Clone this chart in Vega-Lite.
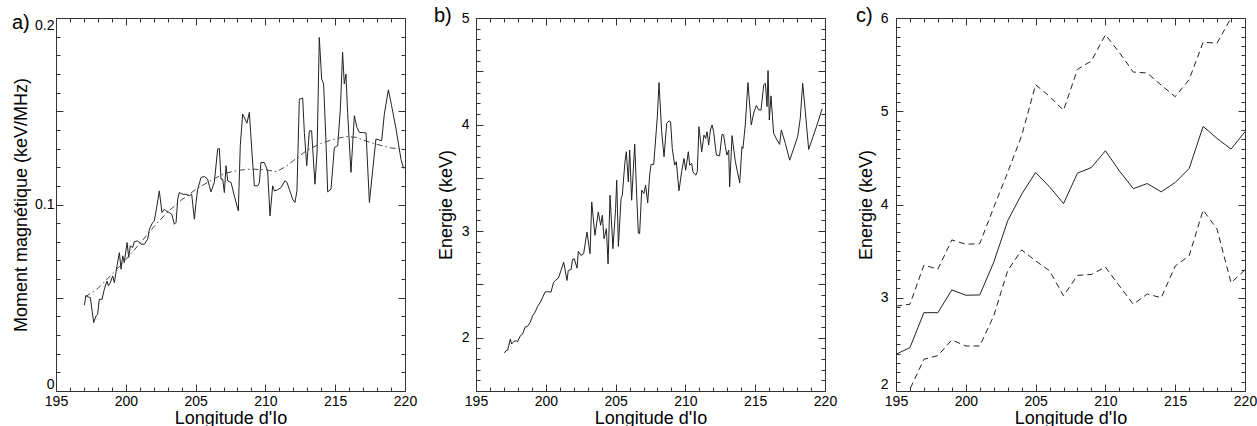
{
  "$schema": "https://vega.github.io/schema/vega-lite/v6.json",
  "padding": {"left": 11, "top": 5, "right": 5, "bottom": 0},
  "spacing": 71,
  "bounds": "flush",
  "config": {
    "view": {"stroke": "#333", "strokeWidth": 1},
    "axis": {"domain": false, "grid": false, "tickColor": "#333", "tickWidth": 1, "labelFont": "Liberation Sans", "labelFontSize": 14, "labelColor": "#000", "titleFont": "Liberation Sans", "titleFontSize": 18, "titleFontWeight": "normal", "titleColor": "#000", "labelOverlap": false},
    "title": {"font": "Liberation Sans", "fontSize": 20, "fontWeight": "normal", "color": "#000"},
    "line": {"color": "#222", "strokeWidth": 1}
  },
  "datasets": {
    "a_obs": [
      {"lon":197.03,"m":0.046},{"lon":197.15,"m":0.0513},{"lon":197.32,"m":0.0504},{"lon":197.46,"m":0.0501},{"lon":197.70,"m":0.0367},{"lon":197.87,"m":0.0403},{"lon":197.98,"m":0.0411},{"lon":198.10,"m":0.0492},{"lon":198.30,"m":0.0492},{"lon":198.46,"m":0.0546},{"lon":198.65,"m":0.059},{"lon":198.75,"m":0.0564},{"lon":198.89,"m":0.0581},{"lon":199.06,"m":0.0617},{"lon":199.18,"m":0.0581},{"lon":199.37,"m":0.0671},{"lon":199.54,"m":0.0742},{"lon":199.66,"m":0.0653},{"lon":199.78,"m":0.0725},{"lon":199.89,"m":0.0689},{"lon":200.09,"m":0.0796},{"lon":200.21,"m":0.0716},{"lon":200.32,"m":0.0778},{"lon":200.49,"m":0.0769},{"lon":200.61,"m":0.08},{"lon":200.85,"m":0.0805},{"lon":201.09,"m":0.0787},{"lon":201.33,"m":0.0787},{"lon":201.57,"m":0.0814},{"lon":201.69,"m":0.0868},{"lon":201.92,"m":0.0903},{"lon":202.04,"m":0.0912},{"lon":202.23,"m":0.0993},{"lon":202.40,"m":0.1073},{"lon":202.59,"m":0.0957},{"lon":202.76,"m":0.0975},{"lon":202.88,"m":0.0966},{"lon":203.12,"m":0.0957},{"lon":203.29,"m":0.0948},{"lon":203.48,"m":0.0894},{"lon":203.60,"m":0.0903},{"lon":203.72,"m":0.1029},{"lon":203.83,"m":0.1064},{"lon":204.07,"m":0.1055},{"lon":204.31,"m":0.1055},{"lon":204.55,"m":0.1047},{"lon":204.72,"m":0.1055},{"lon":204.91,"m":0.0921},{"lon":205.03,"m":0.1011},{"lon":205.15,"m":0.1082},{"lon":205.39,"m":0.1145},{"lon":205.63,"m":0.115},{"lon":205.86,"m":0.1136},{"lon":205.98,"m":0.11},{"lon":206.10,"m":0.1068},{"lon":206.34,"m":0.1118},{"lon":206.58,"m":0.1297},{"lon":206.70,"m":0.1301},{"lon":206.82,"m":0.1136},{"lon":206.94,"m":0.1136},{"lon":207.06,"m":0.1064},{"lon":207.18,"m":0.1208},{"lon":207.30,"m":0.1127},{"lon":207.54,"m":0.1118},{"lon":207.77,"m":0.1047},{"lon":208.06,"m":0.0966},{"lon":208.20,"m":0.1315},{"lon":208.37,"m":0.1485},{"lon":208.54,"m":0.1458},{"lon":208.68,"m":0.1436},{"lon":208.85,"m":0.1494},{"lon":209.02,"m":0.1297},{"lon":209.21,"m":0.11},{"lon":209.45,"m":0.11},{"lon":209.57,"m":0.1118},{"lon":209.68,"m":0.1225},{"lon":209.92,"m":0.1225},{"lon":210.16,"m":0.1181},{"lon":210.33,"m":0.0939},{"lon":210.52,"m":0.11},{"lon":210.64,"m":0.1073},{"lon":210.88,"m":0.1079},{"lon":211.12,"m":0.1091},{"lon":211.40,"m":0.1127},{"lon":211.55,"m":0.1118},{"lon":211.71,"m":0.1082},{"lon":211.95,"m":0.1029},{"lon":212.12,"m":0.1011},{"lon":212.26,"m":0.1073},{"lon":212.43,"m":0.1565},{"lon":212.67,"m":0.1571},{"lon":212.79,"m":0.1386},{"lon":212.96,"m":0.1208},{"lon":213.15,"m":0.1395},{"lon":213.31,"m":0.1395},{"lon":213.55,"m":0.1109},{"lon":213.70,"m":0.1279},{"lon":213.86,"m":0.1896},{"lon":214.03,"m":0.1673},{"lon":214.17,"m":0.1646},{"lon":214.34,"m":0.1333},{"lon":214.46,"m":0.1068},{"lon":214.70,"m":0.1082},{"lon":214.94,"m":0.1306},{"lon":215.18,"m":0.1315},{"lon":215.37,"m":0.1512},{"lon":215.53,"m":0.1816},{"lon":215.65,"m":0.1646},{"lon":215.77,"m":0.1699},{"lon":215.89,"m":0.1494},{"lon":216.13,"m":0.1172},{"lon":216.37,"m":0.1476},{"lon":216.56,"m":0.1413},{"lon":216.73,"m":0.1386},{"lon":216.97,"m":0.1386},{"lon":217.21,"m":0.1383},{"lon":217.45,"m":0.1011},{"lon":217.68,"m":0.1181},{"lon":217.92,"m":0.1351},{"lon":218.33,"m":0.1342},{"lon":218.52,"m":0.1485},{"lon":218.81,"m":0.1615},{"lon":219.04,"m":0.153},{"lon":219.36,"m":0.1404},{"lon":219.71,"m":0.1243},{"lon":219.90,"m":0.1193}
    ],
    "a_fit": [
      {"lon":197.1,"m":0.0505},{"lon":198,"m":0.055},{"lon":199,"m":0.0625},{"lon":200,"m":0.0705},{"lon":201,"m":0.079},{"lon":202,"m":0.088},{"lon":203,"m":0.096},{"lon":204,"m":0.1025},{"lon":205,"m":0.108},{"lon":206,"m":0.1125},{"lon":207,"m":0.1165},{"lon":208,"m":0.1183},{"lon":209,"m":0.119},{"lon":210,"m":0.1186},{"lon":210.8,"m":0.1176},{"lon":211.5,"m":0.1205},{"lon":212,"m":0.1235},{"lon":213,"m":0.1292},{"lon":214,"m":0.1328},{"lon":215,"m":0.1352},{"lon":215.8,"m":0.1365},{"lon":216.5,"m":0.136},{"lon":217,"m":0.1345},{"lon":218,"m":0.1322},{"lon":219,"m":0.1303},{"lon":219.9,"m":0.1297}
    ],
    "b": [
      {"lon":197.03,"e":1.857},{"lon":197.15,"e":1.878},{"lon":197.27,"e":1.884},{"lon":197.46,"e":1.988},{"lon":197.55,"e":1.941},{"lon":197.70,"e":1.963},{"lon":197.87,"e":1.972},{"lon":197.98,"e":1.963},{"lon":198.18,"e":2.019},{"lon":198.34,"e":2.035},{"lon":198.51,"e":2.098},{"lon":198.70,"e":2.107},{"lon":198.89,"e":2.145},{"lon":199.06,"e":2.207},{"lon":199.23,"e":2.239},{"lon":199.42,"e":2.295},{"lon":199.61,"e":2.333},{"lon":199.78,"e":2.38},{"lon":199.94,"e":2.427},{"lon":200.13,"e":2.433},{"lon":200.37,"e":2.427},{"lon":200.56,"e":2.521},{"lon":200.73,"e":2.543},{"lon":200.90,"e":2.559},{"lon":201.09,"e":2.631},{"lon":201.28,"e":2.709},{"lon":201.52,"e":2.537},{"lon":201.61,"e":2.631},{"lon":201.81,"e":2.64},{"lon":201.92,"e":2.735},{"lon":202.04,"e":2.741},{"lon":202.24,"e":2.653},{"lon":202.33,"e":2.81},{"lon":202.52,"e":2.772},{"lon":202.71,"e":2.788},{"lon":202.95,"e":2.992},{"lon":203.17,"e":2.788},{"lon":203.29,"e":3.274},{"lon":203.52,"e":2.96},{"lon":203.76,"e":3.18},{"lon":203.93,"e":3.055},{"lon":204.05,"e":3.149},{"lon":204.17,"e":2.929},{"lon":204.34,"e":3.023},{"lon":204.46,"e":2.694},{"lon":204.60,"e":3.337},{"lon":204.81,"e":2.835},{"lon":205.00,"e":3.212},{"lon":205.08,"e":3.478},{"lon":205.20,"e":2.857},{"lon":205.39,"e":3.306},{"lon":205.48,"e":3.337},{"lon":205.67,"e":3.651},{"lon":205.77,"e":3.745},{"lon":205.91,"e":3.462},{"lon":206.01,"e":3.761},{"lon":206.15,"e":3.29},{"lon":206.37,"e":3.817},{"lon":206.51,"e":3.337},{"lon":206.63,"e":2.982},{"lon":206.72,"e":2.976},{"lon":206.87,"e":3.384},{"lon":207.03,"e":3.353},{"lon":207.15,"e":3.431},{"lon":207.30,"e":3.265},{"lon":207.44,"e":3.525},{"lon":207.54,"e":3.626},{"lon":207.73,"e":3.626},{"lon":207.99,"e":4.074},{"lon":208.11,"e":4.394},{"lon":208.30,"e":3.933},{"lon":208.47,"e":3.698},{"lon":208.66,"e":4.012},{"lon":208.83,"e":4.034},{"lon":208.94,"e":4.027},{"lon":209.06,"e":3.776},{"lon":209.23,"e":3.619},{"lon":209.35,"e":3.651},{"lon":209.54,"e":3.378},{"lon":209.73,"e":3.557},{"lon":209.90,"e":3.682},{"lon":210.02,"e":3.572},{"lon":210.21,"e":3.745},{"lon":210.31,"e":3.619},{"lon":210.45,"e":3.635},{"lon":210.54,"e":3.557},{"lon":210.74,"e":3.525},{"lon":210.85,"e":3.557},{"lon":210.97,"e":3.98},{"lon":211.17,"e":3.745},{"lon":211.33,"e":3.902},{"lon":211.45,"e":3.87},{"lon":211.55,"e":3.933},{"lon":211.67,"e":3.808},{"lon":211.79,"e":3.949},{"lon":211.91,"e":3.996},{"lon":212.02,"e":3.933},{"lon":212.22,"e":3.714},{"lon":212.45,"e":3.707},{"lon":212.62,"e":3.908},{"lon":212.74,"e":3.902},{"lon":212.86,"e":3.792},{"lon":212.98,"e":3.714},{"lon":213.10,"e":3.761},{"lon":213.17,"e":3.415},{"lon":213.34,"e":3.896},{"lon":213.58,"e":3.651},{"lon":213.89,"e":3.453},{"lon":214.05,"e":3.792},{"lon":214.12,"e":3.776},{"lon":214.29,"e":3.996},{"lon":214.48,"e":4.394},{"lon":214.72,"e":3.996},{"lon":214.89,"e":4.106},{"lon":215.08,"e":4.178},{"lon":215.25,"e":4.137},{"lon":215.42,"e":4.137},{"lon":215.61,"e":4.372},{"lon":215.73,"e":4.388},{"lon":215.85,"e":4.168},{"lon":215.92,"e":4.507},{"lon":216.01,"e":4.043},{"lon":216.13,"e":4.269},{"lon":216.32,"e":3.917},{"lon":216.56,"e":3.855},{"lon":216.75,"e":3.814},{"lon":216.87,"e":3.949},{"lon":217.16,"e":3.823},{"lon":217.47,"e":3.666},{"lon":217.76,"e":3.776},{"lon":218.04,"e":3.886},{"lon":218.23,"e":4.059},{"lon":218.40,"e":4.388},{"lon":218.59,"e":4.121},{"lon":218.83,"e":3.767},{"lon":219.14,"e":3.886},{"lon":219.43,"e":3.996},{"lon":219.79,"e":4.147}
    ],
    "c_mid": [
      {"lon":195,"e":2.394},{"lon":196,"e":2.465},{"lon":197,"e":2.84},{"lon":198,"e":2.84},{"lon":199,"e":3.084},{"lon":200,"e":3.027},{"lon":201,"e":3.03},{"lon":202,"e":3.38},{"lon":203,"e":3.825},{"lon":204,"e":4.11},{"lon":205,"e":4.344},{"lon":206,"e":4.19},{"lon":207,"e":4.01},{"lon":208,"e":4.336},{"lon":209,"e":4.397},{"lon":210,"e":4.576},{"lon":211,"e":4.36},{"lon":212,"e":4.17},{"lon":213,"e":4.225},{"lon":214,"e":4.136},{"lon":215,"e":4.236},{"lon":216,"e":4.386},{"lon":217,"e":4.837},{"lon":218,"e":4.708},{"lon":219,"e":4.594},{"lon":220,"e":4.78}
    ],
    "c_dash": [
      {"lon":195,"e":2.91,"s":"haut"},{"lon":196,"e":2.93,"s":"haut"},{"lon":197,"e":3.35,"s":"haut"},{"lon":198,"e":3.306,"s":"haut"},{"lon":199,"e":3.62,"s":"haut"},{"lon":200,"e":3.574,"s":"haut"},{"lon":201,"e":3.58,"s":"haut"},{"lon":202,"e":3.968,"s":"haut"},{"lon":203,"e":4.344,"s":"haut"},{"lon":204,"e":4.737,"s":"haut"},{"lon":205,"e":5.284,"s":"haut"},{"lon":206,"e":5.16,"s":"haut"},{"lon":207,"e":5.01,"s":"haut"},{"lon":208,"e":5.45,"s":"haut"},{"lon":209,"e":5.54,"s":"haut"},{"lon":210,"e":5.82,"s":"haut"},{"lon":211,"e":5.63,"s":"haut"},{"lon":212,"e":5.42,"s":"haut"},{"lon":213,"e":5.41,"s":"haut"},{"lon":214,"e":5.28,"s":"haut"},{"lon":215,"e":5.156,"s":"haut"},{"lon":216,"e":5.34,"s":"haut"},{"lon":217,"e":5.74,"s":"haut"},{"lon":218,"e":5.73,"s":"haut"},{"lon":219,"e":6.0,"s":"haut"},{"lon":220,"e":6.25,"s":"haut"},
      {"lon":195,"e":1.75,"s":"bas"},{"lon":196,"e":2.02,"s":"bas"},{"lon":197,"e":2.34,"s":"bas"},{"lon":198,"e":2.38,"s":"bas"},{"lon":199,"e":2.547,"s":"bas"},{"lon":200,"e":2.483,"s":"bas"},{"lon":201,"e":2.483,"s":"bas"},{"lon":202,"e":2.805,"s":"bas"},{"lon":203,"e":3.29,"s":"bas"},{"lon":204,"e":3.513,"s":"bas"},{"lon":205,"e":3.395,"s":"bas"},{"lon":206,"e":3.29,"s":"bas"},{"lon":207,"e":3.02,"s":"bas"},{"lon":208,"e":3.24,"s":"bas"},{"lon":209,"e":3.25,"s":"bas"},{"lon":210,"e":3.33,"s":"bas"},{"lon":211,"e":3.127,"s":"bas"},{"lon":212,"e":2.93,"s":"bas"},{"lon":213,"e":3.04,"s":"bas"},{"lon":214,"e":3.0,"s":"bas"},{"lon":215,"e":3.34,"s":"bas"},{"lon":216,"e":3.45,"s":"bas"},{"lon":217,"e":3.94,"s":"bas"},{"lon":218,"e":3.735,"s":"bas"},{"lon":219,"e":3.16,"s":"bas"},{"lon":220,"e":3.3,"s":"bas"}
    ]
  },
  "hconcat": [
    {
      "width": 349, "height": 373,
      "title": {"text": "a)", "anchor": "start", "frame": "group", "orient": "top", "offset": 0, "baseline": "alphabetic", "dx": -44, "dy": 31},
      "resolve": {"axis": {"x": "independent", "y": "independent"}},
      "layer": [
        {
          "data": {"name": "a_obs"},
          "mark": {"type": "line"},
          "encoding": {
            "x": {"field": "lon", "type": "quantitative", "scale": {"domain": [195, 220], "nice": false, "zero": false},
              "axis": {"orient": "bottom", "values": [195,196,197,198,199,200,201,202,203,204,205,206,207,208,209,210,211,212,213,214,215,216,217,218,219,220], "tickSize": {"condition": {"test": "datum.value % 5 === 0", "value": -7}, "value": -4}, "labelExpr": "datum.value % 5 === 0 ? datum.label : ''", "labelPadding": 10, "labelFlush": false, "title": "Longitude d'Io", "titlePadding": -2}},
            "y": {"field": "m", "type": "quantitative", "scale": {"domain": [0, 0.2], "nice": false, "zero": false},
              "axis": {"orient": "left", "values": [0,0.01,0.02,0.03,0.04,0.05,0.06,0.07,0.08,0.09,0.1,0.11,0.12,0.13,0.14,0.15,0.16,0.17,0.18,0.19,0.2], "format": "~g", "tickSize": {"condition": {"test": "abs(datum.value * 20 - round(datum.value * 20)) < 0.001", "value": -7}, "value": -4}, "labelExpr": "abs(datum.value * 10 - round(datum.value * 10)) < 0.001 ? datum.label : ''", "labelPadding": 9, "labelFlush": true, "title": "Moment magnétique (keV/MHz)", "titlePadding": 4}}
          }
        },
        {
          "data": {"name": "a_fit"},
          "mark": {"type": "line", "strokeDash": [6, 3, 1.5, 3], "color": "#444"},
          "encoding": {
            "x": {"field": "lon", "type": "quantitative",
              "axis": {"orient": "top", "values": [195,196,197,198,199,200,201,202,203,204,205,206,207,208,209,210,211,212,213,214,215,216,217,218,219,220], "tickSize": {"condition": {"test": "datum.value % 5 === 0", "value": -7}, "value": -4}, "labels": false, "title": null}},
            "y": {"field": "m", "type": "quantitative",
              "axis": {"orient": "right", "values": [0,0.01,0.02,0.03,0.04,0.05,0.06,0.07,0.08,0.09,0.1,0.11,0.12,0.13,0.14,0.15,0.16,0.17,0.18,0.19,0.2], "tickSize": {"condition": {"test": "abs(datum.value * 20 - round(datum.value * 20)) < 0.001", "value": -7}, "value": -4}, "labels": false, "title": null}}
          }
        }
      ]
    },
    {
      "width": 349, "height": 373,
      "title": {"text": "b)", "anchor": "start", "frame": "group", "orient": "top", "offset": 0, "baseline": "alphabetic", "dx": -42, "dy": 31},
      "resolve": {"axis": {"x": "independent", "y": "independent"}},
      "layer": [
        {
          "data": {"name": "b"},
          "mark": {"type": "line"},
          "encoding": {
            "x": {"field": "lon", "type": "quantitative", "scale": {"domain": [195, 220], "nice": false, "zero": false},
              "axis": {"orient": "bottom", "values": [195,196,197,198,199,200,201,202,203,204,205,206,207,208,209,210,211,212,213,214,215,216,217,218,219,220], "tickSize": {"condition": {"test": "datum.value % 5 === 0", "value": -7}, "value": -4}, "labelExpr": "datum.value % 5 === 0 ? datum.label : ''", "labelPadding": 10, "labelFlush": false, "title": "Longitude d'Io", "titlePadding": -2}},
            "y": {"field": "e", "type": "quantitative", "scale": {"domain": [1.5, 5], "nice": false, "zero": false},
              "axis": {"orient": "left", "values": [1.5,1.6,1.7,1.8,1.9,2,2.1,2.2,2.3,2.4,2.5,2.6,2.7,2.8,2.9,3,3.1,3.2,3.3,3.4,3.5,3.6,3.7,3.8,3.9,4,4.1,4.2,4.3,4.4,4.5,4.6,4.7,4.8,4.9,5], "format": "~g", "tickSize": {"condition": {"test": "abs(datum.value * 2 - round(datum.value * 2)) < 0.001", "value": -7}, "value": -4}, "labelExpr": "abs(datum.value - round(datum.value)) < 0.001 ? datum.label : ''", "labelPadding": 14, "labelFlush": false, "title": "Energie (keV)", "titlePadding": 6}}
          }
        },
        {
          "data": {"name": "b"},
          "mark": {"type": "line", "opacity": 0},
          "encoding": {
            "x": {"field": "lon", "type": "quantitative",
              "axis": {"orient": "top", "values": [195,196,197,198,199,200,201,202,203,204,205,206,207,208,209,210,211,212,213,214,215,216,217,218,219,220], "tickSize": {"condition": {"test": "datum.value % 5 === 0", "value": -7}, "value": -4}, "labels": false, "title": null}},
            "y": {"field": "e", "type": "quantitative",
              "axis": {"orient": "right", "values": [1.5,1.6,1.7,1.8,1.9,2,2.1,2.2,2.3,2.4,2.5,2.6,2.7,2.8,2.9,3,3.1,3.2,3.3,3.4,3.5,3.6,3.7,3.8,3.9,4,4.1,4.2,4.3,4.4,4.5,4.6,4.7,4.8,4.9,5], "tickSize": {"condition": {"test": "abs(datum.value * 2 - round(datum.value * 2)) < 0.001", "value": -7}, "value": -4}, "labels": false, "title": null}}
          }
        }
      ]
    },
    {
      "width": 349, "height": 373,
      "title": {"text": "c)", "anchor": "start", "frame": "group", "orient": "top", "offset": 0, "baseline": "alphabetic", "dx": -40, "dy": 31},
      "resolve": {"axis": {"x": "independent", "y": "independent"}},
      "layer": [
        {
          "data": {"name": "c_mid"},
          "mark": {"type": "line", "clip": true},
          "encoding": {
            "x": {"field": "lon", "type": "quantitative", "scale": {"domain": [195, 220], "nice": false, "zero": false},
              "axis": {"orient": "bottom", "values": [195,196,197,198,199,200,201,202,203,204,205,206,207,208,209,210,211,212,213,214,215,216,217,218,219,220], "tickSize": {"condition": {"test": "datum.value % 5 === 0", "value": -7}, "value": -4}, "labelExpr": "datum.value % 5 === 0 ? datum.label : ''", "labelPadding": 10, "labelFlush": false, "title": "Longitude d'Io", "titlePadding": -2}},
            "y": {"field": "e", "type": "quantitative", "scale": {"domain": [2, 6], "nice": false, "zero": false},
              "axis": {"orient": "left", "values": [2,2.1,2.2,2.3,2.4,2.5,2.6,2.7,2.8,2.9,3,3.1,3.2,3.3,3.4,3.5,3.6,3.7,3.8,3.9,4,4.1,4.2,4.3,4.4,4.5,4.6,4.7,4.8,4.9,5,5.1,5.2,5.3,5.4,5.5,5.6,5.7,5.8,5.9,6], "format": "~g", "tickSize": {"condition": {"test": "abs(datum.value - round(datum.value)) < 0.001", "value": -7}, "value": -4}, "labelExpr": "abs(datum.value - round(datum.value)) < 0.001 ? datum.label : ''", "labelBaseline": {"condition": {"test": "datum.value === 2", "value": "bottom"}, "value": "middle"}, "labelPadding": 15, "labelFlush": false, "title": "Energie (keV)", "titlePadding": 5}}
          }
        },
        {
          "data": {"name": "c_dash"},
          "mark": {"type": "line", "clip": true, "strokeDash": [6, 4]},
          "encoding": {
            "detail": {"field": "s"},
            "x": {"field": "lon", "type": "quantitative",
              "axis": {"orient": "top", "values": [195,196,197,198,199,200,201,202,203,204,205,206,207,208,209,210,211,212,213,214,215,216,217,218,219,220], "tickSize": {"condition": {"test": "datum.value % 5 === 0", "value": -7}, "value": -4}, "labels": false, "title": null}},
            "y": {"field": "e", "type": "quantitative",
              "axis": {"orient": "right", "values": [2,2.1,2.2,2.3,2.4,2.5,2.6,2.7,2.8,2.9,3,3.1,3.2,3.3,3.4,3.5,3.6,3.7,3.8,3.9,4,4.1,4.2,4.3,4.4,4.5,4.6,4.7,4.8,4.9,5,5.1,5.2,5.3,5.4,5.5,5.6,5.7,5.8,5.9,6], "tickSize": {"condition": {"test": "abs(datum.value - round(datum.value)) < 0.001", "value": -7}, "value": -4}, "labels": false, "title": null}}
          }
        }
      ]
    }
  ]
}
